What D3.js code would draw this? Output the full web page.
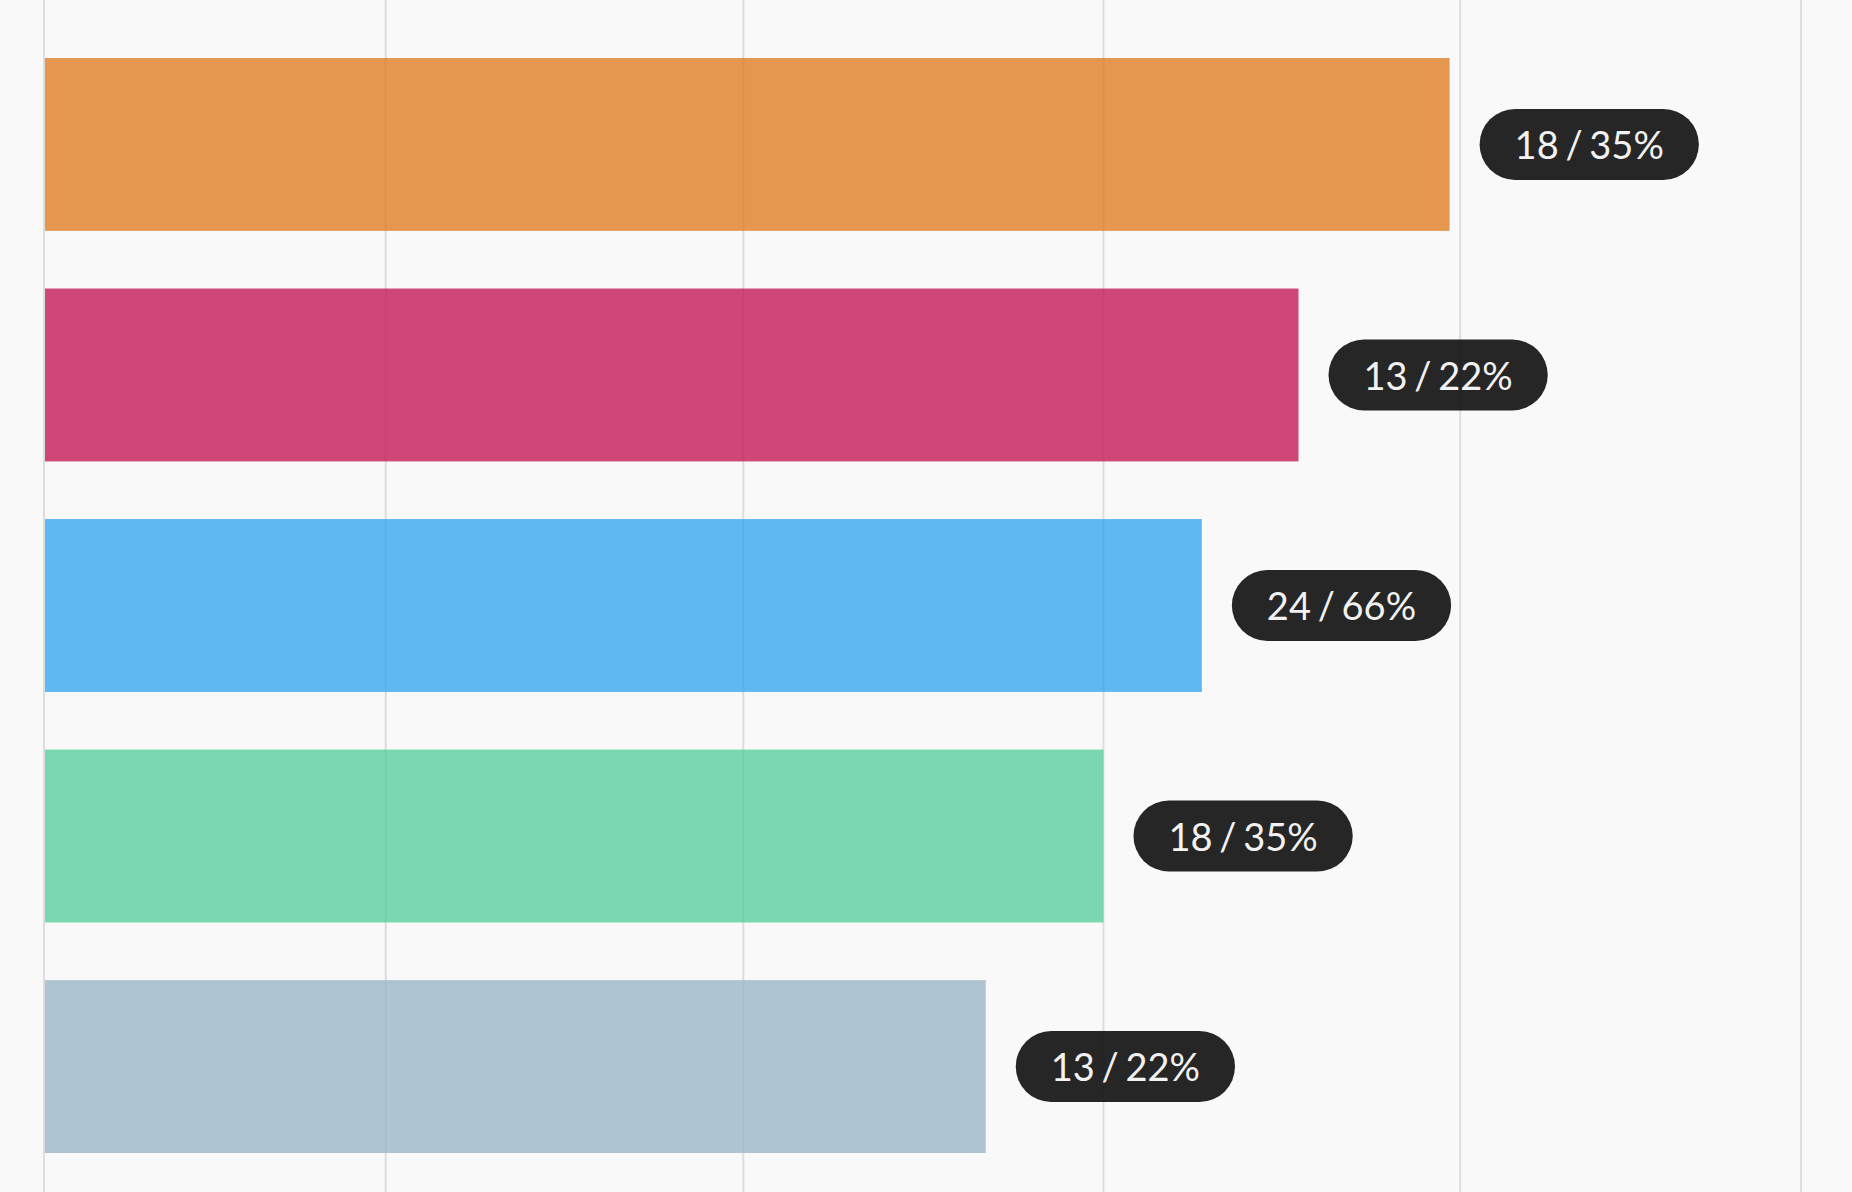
<!DOCTYPE html>
<html>
<head>
<meta charset="utf-8">
<script src="https://cdn.jsdelivr.net/npm/d3@7"></script>
<style>
  html, body { margin: 0; padding: 0; background: #f9f9f9; }
  svg { display: block; }
</style>
</head>
<body>
<svg id="chart"></svg>
<script>
const width = 1852;
const height = 1192;

// data
const categories = ["a", "b", "c", "d", "e"];
const values = [80, 71.4, 65.9, 60.3, 53.6];
const labels = ["18 / 35%", "13 / 22%", "24 / 66%", "18 / 35%", "13 / 22%"];
const colors = ["#e5974f", "#cf4777", "#5fb8f0", "#79d7b2", "#afc4d2"];
const gridTicks = [0, 19.45, 39.8, 60.3, 80.6, 100];

const svg = d3.select("#chart")
  .attr("width", width)
  .attr("height", height);

const x = d3.scaleLinear().domain([0, 100]).range([44, 1801]);
const y = d3.scaleBand().domain(categories).range([58, 1153]).paddingInner(0.25).paddingOuter(0);

// grid
svg.append("g")
  .selectAll("line")
  .data(gridTicks)
  .join("line")
  .attr("x1", d => x(d))
  .attr("x2", d => x(d))
  .attr("y1", 0)
  .attr("y2", height)
  .attr("stroke", "#e6e6e6")
  .attr("stroke-width", 2);

// bars
svg.append("g")
  .selectAll("rect")
  .data(categories)
  .join("rect")
  .attr("x", x(0) + 1)
  .attr("y", d => y(d))
  .attr("width", (d, i) => x(values[i]) - x(0) - 1)
  .attr("height", y.bandwidth())
  .attr("fill", (d, i) => colors[i]);

// labels (pill)
const pillH = 71;
const padX = 35;
const lab = svg.append("g")
  .selectAll("g")
  .data(categories)
  .join("g")
  .attr("transform", (d, i) => `translate(${x(values[i]) + 30},${y(d) + y.bandwidth() / 2})`);

lab.append("rect")
  .attr("y", -pillH / 2)
  .attr("height", pillH)
  .attr("rx", pillH / 2)
  .attr("fill", "#262626");

const txt = lab.append("text")
  .attr("x", padX)
  .attr("dy", "0.39em")
  .attr("fill", "#f2f2f2")
  .style("font-family", "Lato, 'Open Sans', sans-serif")
  .style("font-size", "38px")
  .style("word-spacing", "-3px")
  .text((d, i) => labels[i]);

txt.each(function () {
  const w = this.getComputedTextLength();
  d3.select(this.parentNode).select("rect").attr("width", w + padX * 2);
});

// faint grid over bars and pills
svg.append("g")
  .selectAll("line")
  .data(gridTicks)
  .join("line")
  .attr("x1", d => x(d))
  .attr("x2", d => x(d))
  .attr("y1", 0)
  .attr("y2", height)
  .attr("stroke", "#000")
  .attr("stroke-opacity", 0.035)
  .attr("stroke-width", 2);
</script>
</body>
</html>
